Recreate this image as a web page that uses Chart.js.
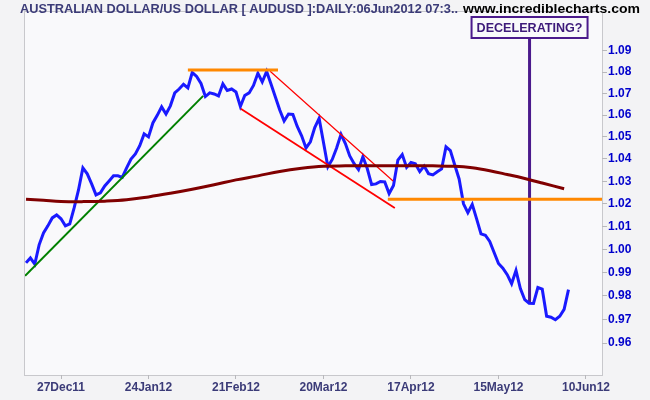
<!DOCTYPE html>
<html>
<head>
<meta charset="utf-8">
<script src="https://cdn.jsdelivr.net/npm/chart.js@4"></script>
<style>html,body{margin:0;padding:0;background:#f3f3f5}</style>
</head>
<body>
<canvas id="myChart" width="650" height="400"></canvas>
<script>
// trading-day index 0 = 27Dec11, closes start at index -8 (15Dec11)
var firstIdx = -8;
var closes = [
  0.9941, 0.9962, 0.9935, 1.0019, 1.0071, 1.0102, 1.0137, 1.0150,
  1.0133, 1.0102, 1.0111, 1.0181, 1.0261, 1.0360, 1.0333, 1.0288, 1.0239, 1.0248,
  1.0279, 1.0301, 1.0324, 1.0324, 1.0317, 1.0360, 1.0400, 1.0423, 1.0460, 1.0514,
  1.0500, 1.0564, 1.0599, 1.0638, 1.0605, 1.0643, 1.0703, 1.0721, 1.0743, 1.0726,
  1.0798, 1.0780, 1.0747, 1.0686, 1.0703, 1.0698, 1.0689, 1.0745, 1.0714, 1.0721,
  1.0707, 1.0640, 1.0691, 1.0703, 1.0738, 1.0795, 1.0754, 1.0803, 1.0745, 1.0684,
  1.0624, 1.0573, 1.0605, 1.0603, 1.0548, 1.0505, 1.0450, 1.0478, 1.0543, 1.0585,
  1.0475, 1.0365, 1.0398, 1.0450, 1.0512, 1.0470, 1.0414, 1.0379, 1.0352, 1.0410,
  1.0357, 1.0285, 1.0288, 1.0299, 1.0297, 1.0245, 1.0281, 1.0395, 1.0420, 1.0362,
  1.0384, 1.0378, 1.0343, 1.0368, 1.0334, 1.0328, 1.0342, 1.0355, 1.0455, 1.0438,
  1.0373, 1.0310, 1.0199, 1.0160, 1.0197, 1.0133, 1.0067, 1.0061, 1.0034, 0.9986,
  0.9938, 0.9918, 0.9890, 0.9851, 0.9908, 0.9830, 0.9783, 0.9768, 0.9767, 0.9835,
  0.9828, 0.9713, 0.9709, 0.9698, 0.9713, 0.9742, 0.9826
];

// moving average, read at a few points
var maIdx  = [-8, -4, 0, 5, 10, 15, 20, 25, 30, 35, 40, 45, 50, 55, 60, 65, 70, 75, 80, 85, 90, 94, 98, 102, 106, 110, 115];
var maVals = [1.0220, 1.0215, 1.0210, 1.0209, 1.0211, 1.0217, 1.0230, 1.0246, 1.0264, 1.0284, 1.0306, 1.0324, 1.0344, 1.0358,
              1.0367, 1.0369, 1.0369, 1.0369, 1.0369, 1.0369, 1.0367, 1.0360, 1.0347, 1.0330, 1.0312, 1.0292, 1.0266];

// hand drawn lines: [index, price] pairs
var greenTrend = [[-8.2, 0.9885], [32.5, 1.0689]];
var topLine    = [[29.0, 1.0810], [49.6, 1.0810]];
var redUpper   = [[47.8, 1.0804], [75.9, 1.0301]];
var redLower   = [[41.1, 1.0629], [76.3, 1.0181]];
var floorLine  = [[74.7, 1.0220], [124, 1.0220]];
var markLine   = [[107.1, 1.0962], [107.1, 0.9770]];

var xTickIdx = [0, 20, 40, 60, 80, 100, 120];
var xTickLabels = ['27Dec11', '24Jan12', '21Feb12', '20Mar12', '17Apr12', '15May12', '10Jun12'];
var yTicks = [0.96, 0.97, 0.98, 0.99, 1.00, 1.01, 1.02, 1.03, 1.04, 1.05, 1.06, 1.07, 1.08, 1.09];

function pts(arr) { return arr.map(function (p) { return {x: p[0], y: p[1]}; }); }

var priceData = closes.map(function (v, k) { return {x: firstIdx + k, y: v}; });
var maData = maIdx.map(function (d, k) { return {x: d, y: maVals[k]}; });

var chrome = {
  id: 'chrome',
  beforeDraw: function (chart) {
    var c = chart.ctx, a = chart.chartArea;
    c.save();
    c.fillStyle = '#f3f3f5';
    c.fillRect(0, 0, chart.width, chart.height);
    c.fillStyle = '#f9f9fb';
    c.fillRect(a.left, a.top, a.right - a.left, a.bottom - a.top);
    c.strokeStyle = '#c8c8cc';
    c.lineWidth = 1;
    c.strokeRect(a.left - 0.5, a.top - 0.5, a.right - a.left + 1, a.bottom - a.top + 1);
    c.restore();
  },
  afterDraw: function (chart) {
    var c = chart.ctx;
    c.save();
    c.textBaseline = 'middle';
    // header
    var t1 = 'AUSTRALIAN DOLLAR/US DOLLAR [ AUDUSD ]:DAILY:06Jun2012 07:3..';
    c.font = 'bold 13px "Liberation Sans"';
    var w1 = c.measureText(t1).width;
    c.save();
    c.translate(20, 9);
    c.scale(438 / w1, 1);
    c.fillStyle = '#3b3b78';
    c.fillText(t1, 0, 0);
    c.restore();
    var t2 = 'www.incrediblecharts.com';
    var w2 = c.measureText(t2).width;
    c.save();
    c.translate(463, 9);
    c.scale(177 / w2, 1);
    c.fillStyle = '#000000';
    c.fillText(t2, 0, 0);
    c.restore();
    // annotation box
    var bx = chart.scales.x.getPixelForValue(markLine[0][0]);
    var bw = 116, bh = 21, by = 17;
    c.fillStyle = '#f9f9fb';
    c.fillRect(bx - bw / 2, by, bw, bh);
    c.strokeStyle = '#4b1a8c';
    c.lineWidth = 2;
    c.strokeRect(bx - bw / 2, by, bw, bh);
    var t3 = 'DECELERATING?';
    c.font = 'bold 13px "Liberation Sans"';
    var w3 = c.measureText(t3).width;
    c.save();
    c.translate(bx - 53, by + bh / 2 + 1);
    c.scale(106 / w3, 1);
    c.fillStyle = '#3d1a7a';
    c.fillText(t3, 0, 0);
    c.restore();
    c.restore();
  }
};

var ctx = document.getElementById('myChart').getContext('2d');
var myChart = new Chart(ctx, {
  type: 'line',
  data: {
    datasets: [
      { data: maData, borderColor: '#800000', borderWidth: 3, pointRadius: 0, tension: 0.4 },
      { data: pts(greenTrend), borderColor: '#008000', borderWidth: 2, pointRadius: 0 },
      { data: pts(topLine), borderColor: '#ff8800', borderWidth: 3, pointRadius: 0 },
      { data: pts(redUpper), borderColor: '#ff0000', borderWidth: 1.2, pointRadius: 0 },
      { data: pts(redLower), borderColor: '#ff0000', borderWidth: 1.8, pointRadius: 0 },
      { data: pts(floorLine), borderColor: '#ff8800', borderWidth: 3, pointRadius: 0 },
      { data: priceData, borderColor: '#1a1aff', borderWidth: 3, pointRadius: 0, tension: 0 },
      { data: pts(markLine), borderColor: '#4b1a8c', borderWidth: 3, pointRadius: 0 }
    ]
  },
  options: {
    responsive: false,
    animation: false,
    devicePixelRatio: 1,
    layout: { padding: { left: 25, top: 12, right: 0, bottom: 0 } },
    plugins: { legend: { display: false }, tooltip: { enabled: false } },
    scales: {
      x: {
        type: 'linear',
        min: -8.23,
        max: 123.66,
        afterBuildTicks: function (s) { s.ticks = xTickIdx.map(function (v) { return {value: v}; }); },
        afterFit: function (s) { s.height = 25; },
        grid: { display: true, drawOnChartArea: false, drawTicks: true, tickLength: 4, color: '#b8b8bc' },
        border: { display: false },
        ticks: {
          padding: 1,
          maxRotation: 0,
          autoSkip: false,
          color: '#3b3b78',
          font: { family: 'Liberation Sans', weight: 'bold', size: 12 },
          callback: function (v) { return xTickLabels[xTickIdx.indexOf(v)]; }
        }
      },
      y: {
        type: 'logarithmic',
        position: 'right',
        min: 0.9468,
        max: 1.1086,
        afterBuildTicks: function (s) { s.ticks = yTicks.map(function (v) { return {value: v}; }); },
        afterFit: function (s) { s.width = 48; },
        grid: { display: true, drawOnChartArea: false, drawTicks: true, tickLength: 5, color: '#b8b8bc' },
        border: { display: false },
        ticks: {
          padding: 1,
          autoSkip: false,
          color: '#0000cc',
          font: { family: 'Liberation Sans', weight: 'bold', size: 12 },
          callback: function (v) { return Number(v).toFixed(2); }
        }
      }
    }
  },
  plugins: [chrome]
});
</script>
</body>
</html>
